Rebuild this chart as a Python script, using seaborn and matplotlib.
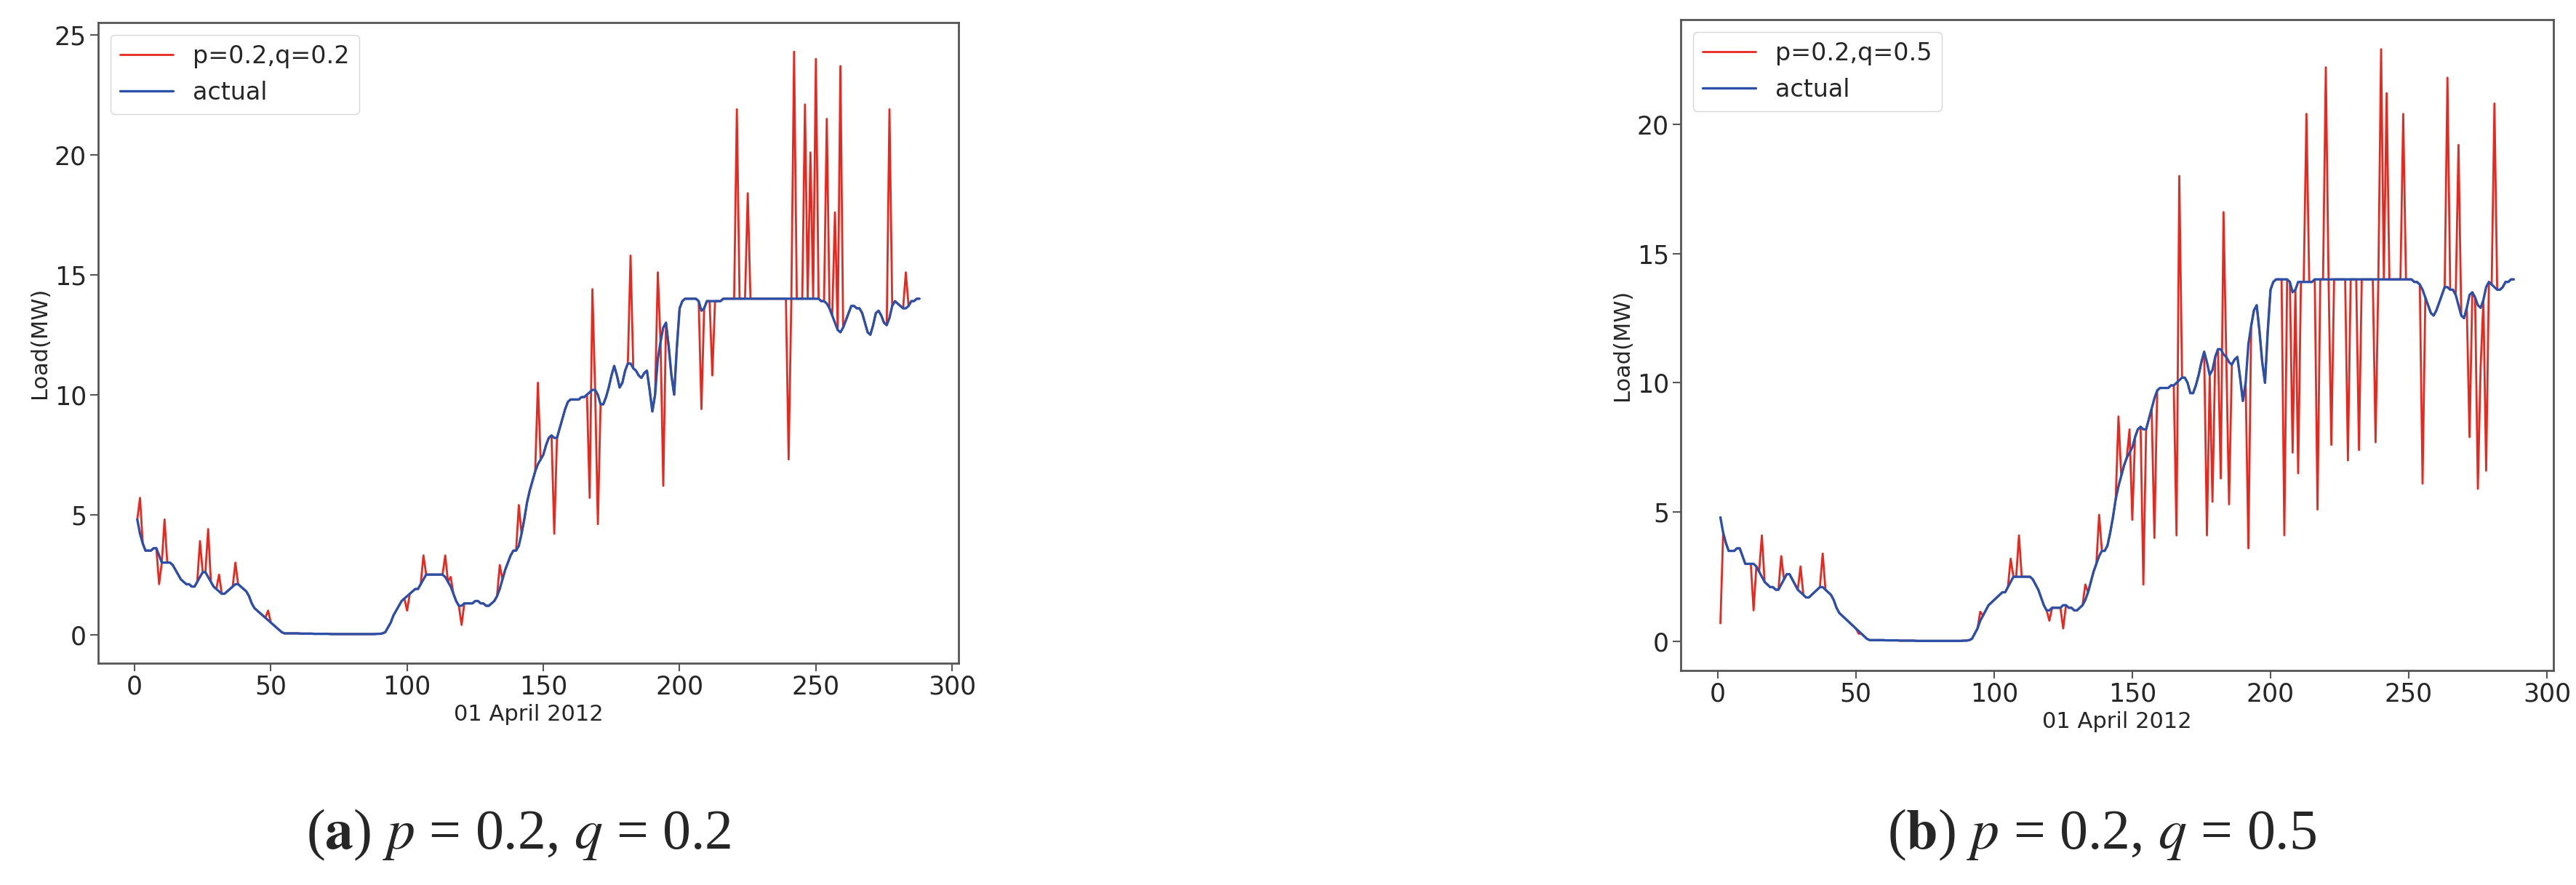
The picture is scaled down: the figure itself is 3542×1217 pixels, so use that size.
import numpy as np
import pandas as pd
import matplotlib
matplotlib.use("Agg")
import matplotlib.pyplot as plt
import seaborn as sns

# actual load, 5-minute steps on 01 April 2012 (x = 1..288)
actual = [
    4.8, 4.2, 3.8, 3.5, 3.5, 3.5, 3.6, 3.6, 3.3, 3.0, 3.0, 3.0,
    3.0, 2.9, 2.7, 2.5, 2.3, 2.2, 2.1, 2.1, 2.0, 2.0, 2.2, 2.4,
    2.6, 2.6, 2.4, 2.2, 2.0, 1.9, 1.8, 1.7, 1.7, 1.8, 1.9, 2.0,
    2.1, 2.1, 2.0, 1.9, 1.8, 1.6, 1.3, 1.1, 1.0, 0.9, 0.8, 0.7,
    0.6, 0.5, 0.4, 0.3, 0.2, 0.1, 0.05, 0.05, 0.05, 0.05, 0.05, 0.05,
    0.04, 0.04, 0.04, 0.04, 0.04, 0.03, 0.03, 0.03, 0.03, 0.03, 0.03, 0.02,
    0.02, 0.02, 0.02, 0.02, 0.02, 0.02, 0.02, 0.02, 0.02, 0.02, 0.02, 0.02,
    0.02, 0.02, 0.02, 0.02, 0.03, 0.03,
    0.05, 0.1, 0.3, 0.5, 0.8, 1.0, 1.2, 1.4, 1.5, 1.6, 1.7, 1.8,
    1.9, 1.9, 2.1, 2.3, 2.5, 2.5, 2.5, 2.5, 2.5, 2.5, 2.5, 2.4,
    2.2, 2.0, 1.7, 1.4, 1.2, 1.2, 1.3, 1.3, 1.3, 1.3, 1.4, 1.4,
    1.3, 1.3, 1.2, 1.2, 1.3, 1.4, 1.6, 1.9, 2.3, 2.7, 3.0, 3.3,
    3.5, 3.5, 3.7, 4.2, 4.8, 5.5, 6.0, 6.4, 6.8, 7.1, 7.3, 7.5,
    7.9, 8.2, 8.3, 8.2, 8.2, 8.6, 9.0, 9.4, 9.7, 9.8, 9.8, 9.8,
    9.8, 9.9, 9.9, 10.0, 10.1, 10.2, 10.2, 10.0, 9.6, 9.6, 9.9, 10.3,
    10.8, 11.2, 10.8, 10.3, 10.5, 11.0, 11.3, 11.3, 11.1, 11.0, 10.8, 10.7,
    10.9, 11.0, 10.2, 9.3, 10.0, 11.5, 12.2, 12.8, 13.0, 12.0, 10.8, 10.0,
    12.0, 13.6, 13.9, 14.0, 14.0, 14.0, 14.0, 14.0, 13.9, 13.5, 13.6, 13.9,
    13.9, 13.9, 13.9, 13.9, 13.9, 14.0, 14.0, 14.0, 14.0, 14.0, 14.0, 14.0,
    14.0, 14.0, 14.0, 14.0, 14.0, 14.0, 14.0, 14.0, 14.0, 14.0, 14.0, 14.0,
    14.0, 14.0, 14.0, 14.0, 14.0, 14.0, 14.0, 14.0, 14.0, 14.0, 14.0, 14.0,
    14.0, 14.0, 14.0, 14.0, 14.0, 13.9, 13.9, 13.8, 13.6, 13.3, 13.0, 12.7,
    12.6, 12.8, 13.1, 13.4, 13.7, 13.7, 13.6, 13.6, 13.4, 13.0, 12.6, 12.5,
    12.9, 13.4, 13.5, 13.3, 13.0, 12.9, 13.2, 13.7, 13.9, 13.8, 13.7, 13.6,
    13.6, 13.7, 13.9, 13.9, 14.0, 14.0,
]

# points where the prediction departs from the actual curve
spike_x_a = [2, 9, 11, 24, 27, 31, 37, 49, 100, 106, 114, 116, 120, 134, 141,
             148, 154, 167, 168, 170, 182, 192, 194, 208, 212, 221, 225, 240,
             242, 246, 248, 250, 254, 257, 259, 277, 283]
spike_y_a = [5.7, 2.1, 4.8, 3.9, 4.4, 2.5, 3.0, 1.0, 1.0, 3.3, 3.3, 2.4, 0.4,
             2.9, 5.4, 10.5, 4.2, 5.7, 14.4, 4.6, 15.8, 15.1, 6.2, 9.4, 10.8,
             21.9, 18.4, 7.3, 24.3, 22.1, 20.1, 24.0, 21.5, 17.6, 23.7, 21.9, 15.1]

spike_x_b = [1, 13, 16, 23, 30, 38, 51, 95, 106, 109, 120, 125, 133, 138, 145,
             149, 150, 154, 158, 166, 167, 177, 179, 182, 183, 185, 192, 205,
             208, 210, 213, 217, 220, 222, 228, 232, 238, 240, 242, 248, 255,
             264, 268, 272, 275, 276, 278, 281]
spike_y_b = [0.7, 1.2, 4.1, 3.3, 2.9, 3.4, 0.3, 1.15, 3.2, 4.1, 0.8, 0.5, 2.2,
             4.9, 8.7, 8.2, 4.7, 2.2, 4.0, 4.1, 18.0, 4.1, 5.4, 6.3, 16.6, 5.3,
             3.6, 4.1, 7.3, 6.5, 20.4, 5.1, 22.2, 7.6, 7.0, 7.4, 7.7, 22.9, 21.2,
             20.4, 6.1, 21.8, 19.2, 7.9, 5.9, 10.6, 6.6, 20.8]

labels = ["p=0.2,q=0.2", "p=0.2,q=0.5"]
captions = [r"($\mathbf{a}$) $p$ = 0.2, $q$ = 0.2", r"($\mathbf{b}$) $p$ = 0.2, $q$ = 0.5"]

x = np.arange(1, len(actual) + 1)


def make_pred(sx, sy):
    pred = pd.Series(actual, index=x, dtype=float)
    pred.loc[sx] = sy
    return pred.values


preds = [make_pred(spike_x_a, spike_y_a), make_pred(spike_x_b, spike_y_b)]

sns.set_style("ticks")
plt.rcParams["font.family"] = ["DejaVu Sans"]
plt.rcParams["mathtext.fontset"] = "stix"

W, H = 3542, 1217
fig = plt.figure(figsize=(W / 100, H / 100), dpi=100)
boxes = [(135, 31, 1318, 912), (2311, 27, 3511, 922)]
cap_x = [713, 2890]

for i in range(2):
    l, t, r, b = boxes[i]
    ax = fig.add_axes([l / W, 1 - b / H, (r - l) / W, (b - t) / H])
    df = pd.DataFrame({"x": x, "pred": preds[i], "actual": actual})
    sns.lineplot(data=df, x="x", y="pred", ax=ax, color="#e8281e", lw=2, label=labels[i])
    sns.lineplot(data=df, x="x", y="actual", ax=ax, color="#2b50a8", lw=2.4, label="actual")
    ax.set_xticks([0, 50, 100, 150, 200, 250, 300])
    ax.set_yticks([0, 5, 10, 15, 20, 25] if i == 0 else [0, 5, 10, 15, 20])
    ax.tick_params(labelsize=25, length=8, width=1.5, color="#555555")
    ax.set_xlabel("01 April 2012", fontsize=22)
    ax.set_ylabel("Load(MW)", fontsize=22)
    for s in ax.spines.values():
        s.set_color("#555555")
        s.set_linewidth(2)
    ax.legend(loc="upper left", fontsize=24, frameon=True, handlelength=2.2)
    fig.text(cap_x[i] / W, 1 - 1148 / H, captions[i], ha="center", va="center",
             fontsize=56, family="Liberation Serif")

fig.savefig("out.png", dpi=100)
